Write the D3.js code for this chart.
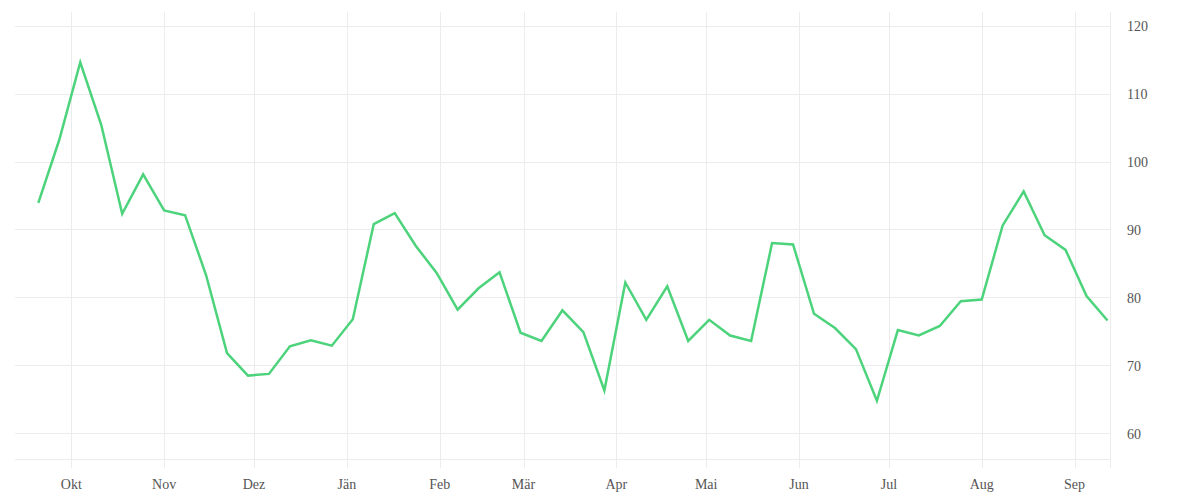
<!DOCTYPE html>
<html>
<head>
<meta charset="utf-8">
<script src="https://cdn.jsdelivr.net/npm/d3@7"></script>
<style>
  html, body { margin: 0; padding: 0; background: #fff; }
  svg { display: block; }
  text { font-family: "Liberation Serif", "DejaVu Serif", serif; }
</style>
</head>
<body>
<svg id="chart" width="1200" height="500"></svg>
<script>
// ---- data ----
const dates = [
  "2018-09-20","2018-09-27","2018-10-04","2018-10-11","2018-10-18","2018-10-25",
  "2018-11-01","2018-11-08","2018-11-15","2018-11-22","2018-11-29",
  "2018-12-06","2018-12-13","2018-12-20","2018-12-27",
  "2019-01-03","2019-01-10","2019-01-17","2019-01-24","2019-01-31",
  "2019-02-07","2019-02-14","2019-02-21","2019-02-28",
  "2019-03-07","2019-03-14","2019-03-21","2019-03-28",
  "2019-04-04","2019-04-11","2019-04-18","2019-04-25",
  "2019-05-02","2019-05-09","2019-05-16","2019-05-23","2019-05-30",
  "2019-06-06","2019-06-13","2019-06-20","2019-06-27",
  "2019-07-04","2019-07-11","2019-07-18","2019-07-25",
  "2019-08-01","2019-08-08","2019-08-15","2019-08-22","2019-08-29",
  "2019-09-05","2019-09-12"
];
const values = [
  93.9, 103.2, 114.6, 105.4, 92.3, 98.1, 92.8, 92.1, 83.3, 71.8, 68.5,
  68.75, 72.8, 73.7, 72.9, 76.8, 90.8, 92.4, 87.6, 83.6, 78.2, 81.35,
  83.7, 74.8, 73.6, 78.1, 74.9, 66.3, 82.2, 76.7, 81.65, 73.6, 76.7,
  74.4, 73.6, 88.0, 87.8, 77.6, 75.5, 72.4, 64.8, 75.2, 74.4, 75.8,
  79.45, 79.7, 90.6, 95.6, 89.15, 87.0, 80.2, 76.6
];
const monthTicks = ["2018-10-01","2018-11-01","2018-12-01","2019-01-01","2019-02-01","2019-03-01",
                    "2019-04-01","2019-05-01","2019-06-01","2019-07-01","2019-08-01","2019-09-01"];
const monthLabels = ["Okt","Nov","Dez","Jän","Feb","Mär","Apr","Mai","Jun","Jul","Aug","Sep"];
const yTicks = [60, 70, 80, 90, 100, 110, 120];

// ---- layout ----
const parse = d3.timeParse("%Y-%m-%d");
const plotLeft = 15, plotRight = 1110, plotTop = 12, plotBottom = 458.5;
const gridColor = "#ececec";
const textColor = "#555";

const x = d3.scaleTime()
  .domain([new Date(2018, 8, 12, 5), new Date(2019, 8, 12, 20)])
  .range([plotLeft, plotRight]);
const y = d3.scaleLinear().domain([56.3, 122]).range([plotBottom, plotTop]);

const svg = d3.select("#chart");

// horizontal grid
svg.append("g").selectAll("line").data(yTicks).join("line")
  .attr("x1", plotLeft).attr("x2", plotRight)
  .attr("y1", d => Math.round(y(d)) + 0.5).attr("y2", d => Math.round(y(d)) + 0.5)
  .attr("stroke", gridColor).attr("stroke-width", 1);

// bottom baseline
svg.append("line")
  .attr("x1", plotLeft).attr("x2", plotRight)
  .attr("y1", Math.round(plotBottom) + 0.5).attr("y2", Math.round(plotBottom) + 0.5)
  .attr("stroke", gridColor).attr("stroke-width", 1);

// vertical grid at months
const mDates = monthTicks.map(parse);
svg.append("g").selectAll("line").data(mDates).join("line")
  .attr("x1", d => Math.round(x(d)) + 0.5).attr("x2", d => Math.round(x(d)) + 0.5)
  .attr("y1", plotTop).attr("y2", 468)
  .attr("stroke", gridColor).attr("stroke-width", 1);

// right edge line
svg.append("line")
  .attr("x1", plotRight + 0.5).attr("x2", plotRight + 0.5)
  .attr("y1", plotTop).attr("y2", 468)
  .attr("stroke", gridColor).attr("stroke-width", 1);

// x labels
svg.append("g").selectAll("text").data(mDates).join("text")
  .attr("x", d => x(d)).attr("y", 484)
  .attr("text-anchor", "middle").attr("dominant-baseline", "central")
  .attr("font-size", 14).attr("fill", textColor)
  .text((d, i) => monthLabels[i]);

// y labels
svg.append("g").selectAll("text").data(yTicks).join("text")
  .attr("x", 1127).attr("y", d => y(d) + 1)
  .attr("text-anchor", "start").attr("dominant-baseline", "central")
  .attr("font-size", 14).attr("fill", textColor)
  .text(d => d);

// line
const data = dates.map((d, i) => ({ date: parse(d), value: values[i] }));
svg.append("path")
  .datum(data)
  .attr("fill", "none")
  .attr("stroke", "#4cd37b")
  .attr("stroke-width", 2.5)
  .attr("stroke-linejoin", "miter")
  .attr("d", d3.line().x(d => x(d.date)).y(d => y(d.value)));
</script>
</body>
</html>
